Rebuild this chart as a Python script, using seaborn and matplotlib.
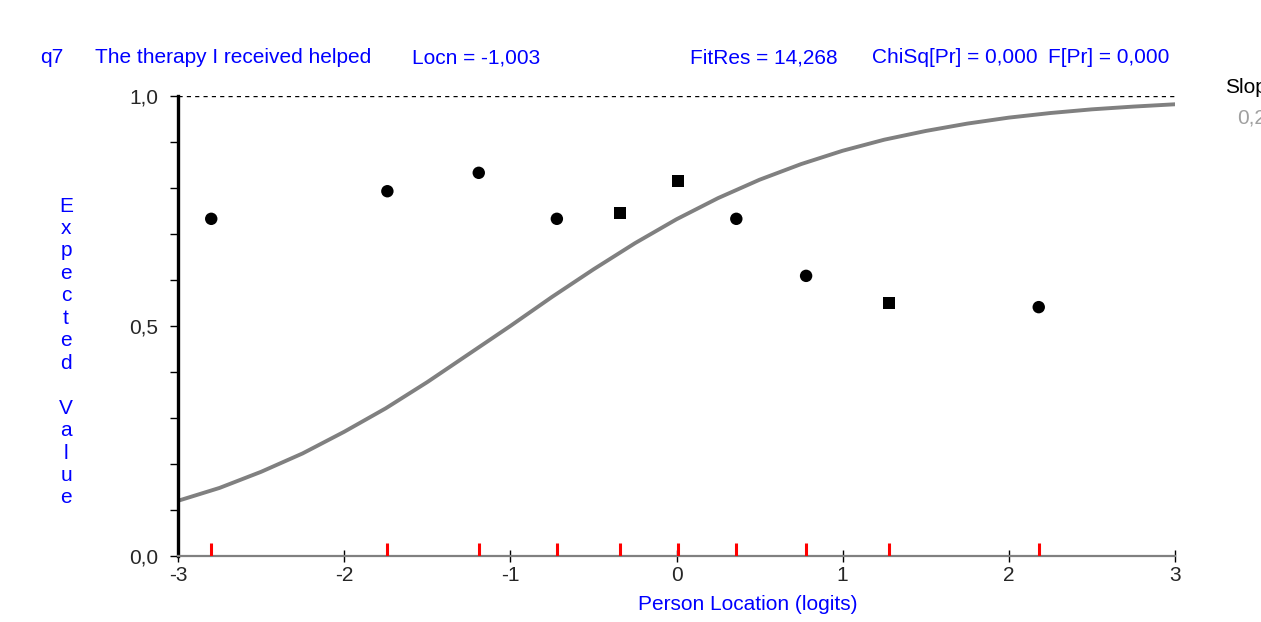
import numpy as np
import pandas as pd
import matplotlib
matplotlib.use("Agg")
import matplotlib.pyplot as plt
import seaborn as sns
from matplotlib.ticker import MultipleLocator, FuncFormatter

obs_x = [-2.80, -1.74, -1.19, -0.72, -0.34, 0.01, 0.36, 0.78, 1.28, 2.18]
obs_y = [0.733, 0.793, 0.833, 0.733, 0.746, 0.815, 0.733, 0.609, 0.550, 0.541]
obs_shape = ["round", "round", "round", "round", "square", "square", "round", "round", "square", "round"]

# expected value curve
curve_x = [-3.0, -2.75, -2.5, -2.25, -2.0, -1.75, -1.5, -1.25, -1.0, -0.75, -0.5, -0.25,
           0.0, 0.25, 0.5, 0.75, 1.0, 1.25, 1.5, 1.75, 2.0, 2.25, 2.5, 2.75, 3.0]
curve_y = [0.120, 0.148, 0.183, 0.223, 0.270, 0.321, 0.378, 0.439, 0.500, 0.563, 0.623, 0.680,
           0.732, 0.778, 0.818, 0.852, 0.881, 0.905, 0.924, 0.940, 0.953, 0.963, 0.971, 0.977, 0.982]

header = [("q7", 40), ("The therapy I received helped", 95), ("Locn = -1,003", 412),
          ("FitRes = 14,268", 690), ("ChiSq[Pr] = 0,000", 872), ("F[Pr] = 0,000", 1048)]

obs = pd.DataFrame({"x": obs_x, "y": obs_y, "shape": obs_shape})
curve = pd.DataFrame({"x": curve_x, "y": curve_y})

sns.set_style("white")
plt.rcParams["font.family"] = ["Liberation Sans", "DejaVu Sans"]
plt.rcParams["axes.unicode_minus"] = False

W, H = 1261, 622
fig = plt.figure(figsize=(W / 100, H / 100), dpi=100)
ax = fig.add_axes([178 / W, 1 - 556 / H, (1175 - 178) / W, (556 - 96) / H])

blue = "#0000ff"
fs = 15

sns.lineplot(data=curve, x="x", y="y", ax=ax, color="#808080", linewidth=2.8, zorder=2)
sns.scatterplot(data=obs, x="x", y="y", style="shape", markers={"round": "o", "square": "s"},
                s=80, color="black", edgecolor="black", linewidth=0, legend=False, ax=ax, zorder=3)

# red ticks for each class interval on the x axis
ax.vlines(obs_x, 0, 0.028, colors="red", linewidth=2.2, zorder=4)
ax.axhline(1.0, color="black", linestyle=(0, (3, 3)), linewidth=1.0, zorder=1)

ax.set_xlim(-3, 3)
ax.set_ylim(0, 1)
ax.set_xlabel("")
ax.set_ylabel("")

for side in ["top", "right"]:
    ax.spines[side].set_visible(False)
ax.spines["left"].set_color("black")
ax.spines["left"].set_linewidth(2.4)
ax.spines["bottom"].set_color("#808080")
ax.spines["bottom"].set_linewidth(1.6)

ax.xaxis.set_major_locator(MultipleLocator(1))
ax.yaxis.set_major_locator(MultipleLocator(0.5))
ax.yaxis.set_minor_locator(MultipleLocator(0.1))
ax.yaxis.set_major_formatter(FuncFormatter(lambda v, p: f"{v:.1f}".replace(".", ",")))
ax.xaxis.set_major_formatter(FuncFormatter(lambda v, p: f"{int(round(v))}"))
ax.tick_params(axis="y", which="both", direction="out", left=True, length=6, width=1,
               color="black", labelsize=fs, pad=8)
ax.tick_params(axis="x", which="major", direction="inout", bottom=True, length=8, width=1,
               color="black", labelsize=fs, pad=3)

for txt, px in header:
    fig.text(px / W, 1 - 63 / H, txt, color=blue, fontsize=fs, ha="left", va="baseline")

fig.text(1225 / W, 1 - 93 / H, "Slope", color="black", fontsize=fs, ha="left", va="baseline")
fig.text(1237 / W, 1 - 123 / H, "0,2", color="#a0a0a0", fontsize=fs, ha="left", va="baseline")

fig.text(66 / W, 1 - 352 / H, "\n".join("Expected Value"), color=blue, fontsize=fs,
         ha="center", va="center", linespacing=1.23)
fig.text(748 / W, 1 - 605 / H, "Person Location (logits)", color=blue, fontsize=fs,
         ha="center", va="center")

fig.savefig("out.png", dpi=100)
